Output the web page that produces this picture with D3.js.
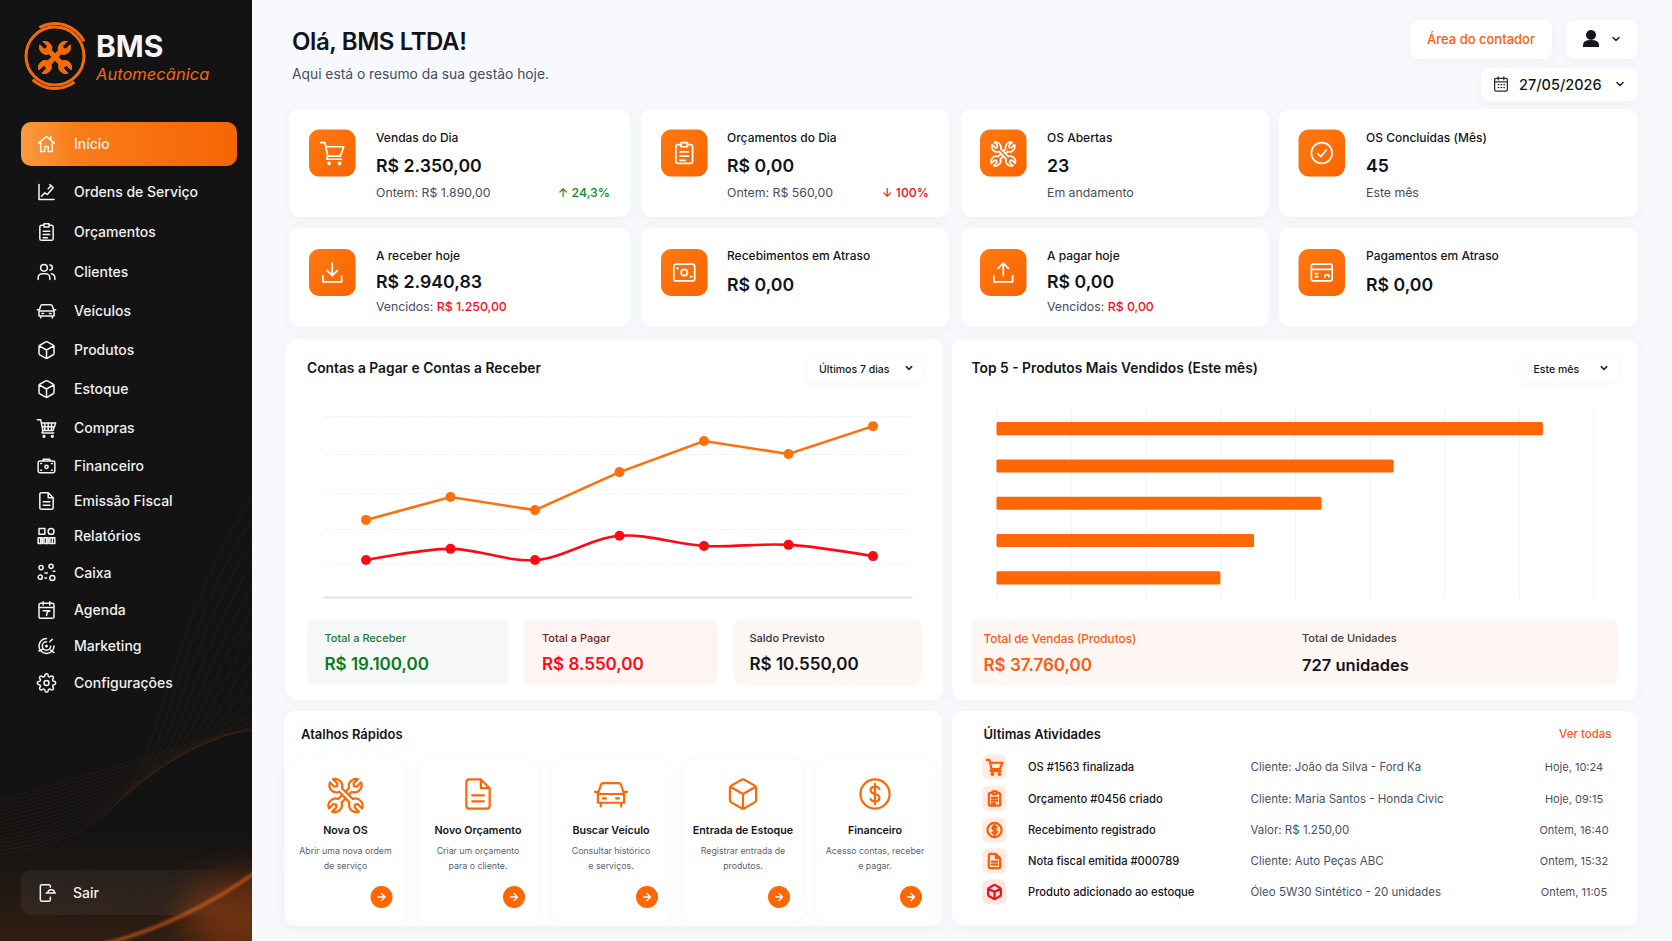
<!DOCTYPE html>
<html lang="pt-BR">
<head>
<meta charset="utf-8">
<title>BMS Automecânica</title>
<script src="https://d3js.org/d3.v7.min.js"></script>
<style>
  html, body { margin: 0; padding: 0; background: #f8f9fc; overflow: hidden; }
  svg { display: block; font-family: 'Inter', 'Roboto', sans-serif; }
</style>
</head>
<body>
<div id="painel"></div>
<script>
// ---- dados ----
var dias = ["21/05", "22/05", "23/05", "24/05", "25/05", "26/05", "27/05"];
var contasReceber = [2130, 2760, 2400, 3450, 4310, 3950, 4720];
var contasPagar = [1020, 1330, 1020, 1690, 1410, 1440, 1130];
var gradeValores = [0, 940, 1880, 2870, 3950, 5000];

var produtos = ["Produto 1", "Produto 2", "Produto 3", "Produto 4", "Produto 5"];
var unidades = [227, 165, 135, 107, 93];
var gradeUnidades = [0, 31, 62, 93, 124, 155, 186, 217, 248];

var menuNomes = ["Início", "Ordens de Serviço", "Orçamentos", "Clientes", "Veículos", "Produtos", "Estoque", "Compras", "Financeiro", "Emissão Fiscal", "Relatórios", "Caixa", "Agenda", "Marketing", "Configurações"];
var menuIcones = ["home", "chart", "clip", "users", "car", "box", "box", "cart2", "safe", "doc", "grid", "nodes", "cal", "spiral", "gear"];

var kpiTitulos = ["Vendas do Dia", "Orçamentos do Dia", "OS Abertas", "OS Concluídas (Mês)", "A receber hoje", "Recebimentos em Atraso", "A pagar hoje", "Pagamentos em Atraso"];
var kpiValores = ["R$ 2.350,00", "R$ 0,00", "23", "45", "R$ 2.940,83", "R$ 0,00", "R$ 0,00", "R$ 0,00"];
var kpiNotas = ["Ontem: R$ 1.890,00", "Ontem: R$ 560,00", "Em andamento", "Este mês", "Vencidos: ", "", "Vencidos: ", ""];
var kpiVencidos = ["", "", "", "", "R$ 1.250,00", "", "R$ 0,00", ""];
var kpiVariacao = ["↑ 24,3%", "↓ 100%", "", "", "", "", "", ""];
var kpiIcones = ["cart", "clip", "tools", "check", "down", "bank", "up", "card"];

var resumoRotulos = ["Total a Receber", "Total a Pagar", "Saldo Previsto"];
var resumoValores = ["R$ 19.100,00", "R$ 8.550,00", "R$ 10.550,00"];

var atalhoTitulos = ["Nova OS", "Novo Orçamento", "Buscar Veículo", "Entrada de Estoque", "Financeiro"];
var atalhoLinha1 = ["Abrir uma nova ordem", "Criar um orçamento", "Consultar histórico", "Registrar entrada de", "Acesso contas, receber"];
var atalhoLinha2 = ["de serviço", "para o cliente.", "e serviços.", "produtos.", "e pagar."];
var atalhoIcones = ["tools", "doc", "car", "box", "dollar"];

var ativTitulos = ["OS #1563 finalizada", "Orçamento #0456 criado", "Recebimento registrado", "Nota fiscal emitida #000789", "Produto adicionado ao estoque"];
var ativDetalhes = ["Cliente: João da Silva - Ford Ka", "Cliente: Maria Santos - Honda Civic", "Valor: R$ 1.250,00", "Cliente: Auto Peças ABC", "Óleo 5W30 Sintético - 20 unidades"];
var ativHoras = ["Hoje, 10:24", "Hoje, 09:15", "Ontem, 16:40", "Ontem, 15:32", "Ontem, 11:05"];
var ativIcones = ["cart", "clip", "dollar", "doc", "box"];

// icones desenhados em caixa 24x24
var icones = {
  home: "M2.5 11 12 3l9.5 8 M5 9v12h5v-6h4v6h5V9 M17 3v3",
  chart: "M3 3v18h18 M6 17l4-4 3 2 6-7 M16 3l4 4 M14 8l3-3",
  clip: "M8 4H6a2 2 0 0 0-2 2v14a2 2 0 0 0 2 2h12a2 2 0 0 0 2-2V6a2 2 0 0 0-2-2h-2 M9 2h6v4H9z M8 11h8 M8 15h8 M8 19h5",
  users: "M9 11a4 4 0 1 0 0-8 4 4 0 0 0 0 8z M2 21v-2a5 5 0 0 1 5-5h4a5 5 0 0 1 5 5v2 M16 3.5a3 3 0 0 1 0 6 M18 14a5 5 0 0 1 4 5v2",
  car: "M3 12l2-6a2 2 0 0 1 2-1.5h10A2 2 0 0 1 19 6l2 6 M3 12h18v6H3z M5 18v2.5 M19 18v2.5 M1 10.5h2 M21 10.5h2 M6.5 15h2 M15.5 15h2",
  box: "M21 16V8a2 2 0 0 0-1-1.73l-7-4a2 2 0 0 0-2 0l-7 4A2 2 0 0 0 3 8v8a2 2 0 0 0 1 1.73l7 4a2 2 0 0 0 2 0l7-4A2 2 0 0 0 21 16z M3.3 7 12 12l8.7-5 M12 22V12",
  cart: "M9 21a1 1 0 1 0 .01 0 M19 21a1 1 0 1 0 .01 0 M1 2h4l2.7 13h12L23 6H6 M7.7 15l-1 3h14",
  cart2: "M9 21a1 1 0 1 0 .01 0 M19 21a1 1 0 1 0 .01 0 M1 2h4l2.7 13h12L23 6H6 M7.7 15l-1 3h14 M10 6v9 M14 6v9 M18 6v9 M6.500 10.500h15",
  safe: "M4 6h16a2 2 0 0 1 2 2v10a2 2 0 0 1-2 2H4a2 2 0 0 1-2-2V8a2 2 0 0 1 2-2z M8 6V4h8v2 M12 11a2 2 0 1 0 0 4 2 2 0 0 0 0-4z M5 9h1 M18 9h1 M5 17h1 M18 17h1",
  doc: "M14 2H6a2 2 0 0 0-2 2v16a2 2 0 0 0 2 2h12a2 2 0 0 0 2-2V8z M14 2v6h6 M8 13h8 M8 17h8",
  grid: "M3 3h7v7H3z M14 6.5a3.5 3.5 0 1 0 7 0 3.5 3.5 0 0 0-7 0z M2 14h5v7H2z M9 14h5v7H9z M16 14h6v7h-6z M5 14v7 M12 14v7 M19 14v7",
  nodes: "M3 5.500a2.500 2.500 0 1 0 5 0 2.500 2.500 0 0 0-5 0z M15 4a2.500 2.500 0 1 0 5 0 2.500 2.500 0 0 0-5 0z M2 17a2.500 2.500 0 1 0 5 0 2.500 2.500 0 0 0-5 0z M16 18a3 3 0 1 0 6 0 3 3 0 0 0-6 0z M10 12h3 M20 10h2 M10 18h2",
  cal: "M5 4h14a2 2 0 0 1 2 2v14a2 2 0 0 1-2 2H5a2 2 0 0 1-2-2V6a2 2 0 0 1 2-2z M16 2v4 M8 2v4 M3 9h18 M8 13h8l-3 1.500-1 4",
  spiral: "M12 3a9 9 0 1 0 9 9 M12 7a5 5 0 1 0 5 5 M12 11a1 1 0 1 0 1 1 M19 4l-3 3 M17 17l4 3 M3 18l4-2",
  gear: "M12 15a3 3 0 1 0 0-6 3 3 0 0 0 0 6z M19.4 15a1.65 1.65 0 0 0 .33 1.82l.06.06a2 2 0 0 1 0 2.83 2 2 0 0 1-2.83 0l-.06-.06a1.65 1.65 0 0 0-1.82-.33 1.65 1.65 0 0 0-1 1.51V21a2 2 0 0 1-2 2 2 2 0 0 1-2-2v-.09A1.65 1.65 0 0 0 9 19.4a1.65 1.65 0 0 0-1.82.33l-.06.06a2 2 0 0 1-2.83 0 2 2 0 0 1 0-2.83l.06-.06a1.65 1.65 0 0 0 .33-1.82 1.65 1.65 0 0 0-1.51-1H3a2 2 0 0 1-2-2 2 2 0 0 1 2-2h.09A1.65 1.65 0 0 0 4.6 9a1.65 1.65 0 0 0-.33-1.82l-.06-.06a2 2 0 0 1 0-2.83 2 2 0 0 1 2.83 0l.06.06a1.65 1.65 0 0 0 1.82.33H9a1.65 1.65 0 0 0 1-1.51V3a2 2 0 0 1 2-2 2 2 0 0 1 2 2v.09a1.65 1.65 0 0 0 1 1.51 1.65 1.65 0 0 0 1.82-.33l.06-.06a2 2 0 0 1 2.83 0 2 2 0 0 1 0 2.83l-.06.06a1.65 1.65 0 0 0-.33 1.82V9a1.65 1.65 0 0 0 1.51 1H21a2 2 0 0 1 2 2 2 2 0 0 1-2 2h-.09a1.65 1.65 0 0 0-1.51 1z",
  sair: "M16 5V4a2 2 0 0 0-2-2H6a2 2 0 0 0-2 2v16a2 2 0 0 0 2 2h8a2 2 0 0 0 2-2v-3 M11 12h11 M13 12a4 4 0 0 1 8 0",
  // chave dupla na diagonal, cabeca aberta nas duas pontas
  tools: "M20.500 1.800l-3 3 .3 1.900 1.900.3 3-3a5 5 0 0 1-6.500 6.500L9.300 17.900a5 5 0 0 1-6.500 6.200l3-3-.3-1.900-1.900-.3-3 3A5 5 0 0 1 7 15.400L14.400 8a5 5 0 0 1 6.100-6.200z",
  check: "M12 2a10 10 0 1 0 0 20 10 10 0 0 0 0-20z M8 12.500l3 3 5.500-6.500",
  down: "M21 15v6H3v-6 M7 10l5 5 5-5 M12 15V3",
  up: "M3 15v6h18v-6 M17 8l-5-5-5 5 M12 3v12",
  bank: "M4 4h16a2 2 0 0 1 2 2v12a2 2 0 0 1-2 2H4a2 2 0 0 1-2-2V6a2 2 0 0 1 2-2z M12 9a3 3 0 1 0 0 6 3 3 0 0 0 0-6z M5 8h1 M18 16h1",
  card: "M4 4h16a2 2 0 0 1 2 2v12a2 2 0 0 1-2 2H4a2 2 0 0 1-2-2V6a2 2 0 0 1 2-2z M2 9h20 M6 13h2 M6 16h2 M15 16a2 2 0 0 1 4 0",
  dollar: "M12 2a10 10 0 1 0 0 20 10 10 0 0 0 0-20z M15 8.500a3 3 0 0 0-3-1.500c-2 0-3 1-3 2.500s1 2 3 2.500 3 1 3 2.500-1 2.500-3 2.500a3 3 0 0 1-3-1.500 M12 5v14",
  arrow: "M5 12h14 M12 5l7 7-7 7",
  cal2: "M5 4h14a2 2 0 0 1 2 2v14a2 2 0 0 1-2 2H5a2 2 0 0 1-2-2V6a2 2 0 0 1 2-2z M16 2v4 M8 2v4 M3 9h18 M8 13h1 M12 13h1 M16 13h1 M8 17h1 M12 17h1 M16 17h1",
  chev: "M6 9l6 6 6-6"
};

var svg = d3.select("#painel").append("svg")
  .attr("width", 1672)
  .attr("height", 941);

var defs = svg.append("defs");

var f1 = defs.append("filter").attr("id", "sombra").attr("x", "-10%").attr("y", "-10%").attr("width", "120%").attr("height", "125%");
f1.append("feDropShadow").attr("dx", 0).attr("dy", 2).attr("stdDeviation", 5).attr("flood-color", "#5a6488").attr("flood-opacity", 0.05);

var f2 = defs.append("filter").attr("id", "brilho").attr("x", "-50%").attr("y", "-50%").attr("width", "200%").attr("height", "200%");
f2.append("feGaussianBlur").attr("stdDeviation", 16);
var f3 = defs.append("filter").attr("id", "brilho2").attr("x", "-20%").attr("y", "-50%").attr("width", "140%").attr("height", "200%");
f3.append("feGaussianBlur").attr("stdDeviation", 1.5);

function gradiente(id, x2, y2, cores) {
  var g = defs.append("linearGradient").attr("id", id).attr("x1", 0).attr("y1", 0).attr("x2", x2).attr("y2", y2);
  cores.forEach(function(c) {
    g.append("stop").attr("offset", c[0]).attr("stop-color", c[1]).attr("stop-opacity", c[2] === undefined ? 1 : c[2]);
  });
}
gradiente("ativo", 1, 0, [[0, "#fb9a3e"], [0.25, "#f97d18"], [1, "#f56504"]]);
gradiente("tile", 1, 1, [[0, "#ff7a12"], [1, "#f96300"]]);
gradiente("sairbg", 1, 0, [[0, "#fff", 0.05], [0.75, "#fff", 0.04], [1, "#fff", 0]]);
gradiente("fundoLaranja", 0, 1, [[0, "#ff6a10", 0], [1, "#ff6a10", 0.12]]);

defs.append("clipPath").attr("id", "lateral").append("rect").attr("width", 252).attr("height", 941);

// helpers
function txt(g, x, y, s, size, weight, cor, anchor) {
  return g.append("text").attr("x", x).attr("y", y).text(s)
    .attr("font-size", size).attr("font-weight", weight).attr("fill", cor)
    .attr("text-anchor", anchor || "start");
}

// fundo = cor de preenchimento da chave de cima, para a cruz ficar legivel
function icone(g, nome, cx, cy, size, cor, sw, fundo) {
  var k = size / 24;
  var ig = g.append("g").attr("transform", "translate(" + (cx - size / 2) + "," + (cy - size / 2) + ") scale(" + k + ")")
    .attr("fill", "none").attr("stroke", cor).attr("stroke-width", sw / k)
    .attr("stroke-linecap", "round").attr("stroke-linejoin", "round");
  ig.append("path").attr("d", icones[nome]).attr("fill", nome == "tools" ? fundo : "none");
  if (nome == "tools") {
    ig.append("path").attr("d", icones[nome]).attr("fill", fundo).attr("transform", "translate(24,0) scale(-1,1)");
  }
  return ig;
}

function cartao(g, x, y, x2, y2, r, cor) {
  return g.append("rect").attr("x", x).attr("y", y).attr("width", x2 - x).attr("height", y2 - y)
    .attr("rx", r).attr("fill", cor || "#fff").attr("filter", "url(#sombra)");
}

// ---- barra lateral ----
var lado = svg.append("g").attr("clip-path", "url(#lateral)");
lado.append("rect").attr("width", 252).attr("height", 941).attr("fill", "#131313");
lado.append("rect").attr("y", 830).attr("width", 252).attr("height", 111).attr("fill", "url(#fundoLaranja)");
lado.append("ellipse").attr("cx", 252).attr("cy", 915).attr("rx", 70).attr("ry", 40).attr("fill", "#e8590c").attr("opacity", 0.35).attr("filter", "url(#brilho)");

// linhas finas de fundo
d3.range(16).forEach(function(i) {
  var d = i * 23;
  lado.append("path")
    .attr("d", "M-10," + (855 - i * 3.500) + " C90," + (845 - i * 4.500) + " " + (130 + d * 0.25) + "," + (805 - i * 5) + " " + (150 + d * 0.3) + "," + (745 - i) +
      " S" + (190 + d * 0.3) + "," + (590 + d * 0.5) + " " + (262) + "," + (480 + d))
    .attr("fill", "none").attr("stroke", "#ff7a20").attr("stroke-opacity", 0.09).attr("stroke-width", 0.8);
});
lado.append("path").attr("d", "M100,945 C160,930 210,905 262,868")
  .attr("fill", "none").attr("stroke", "#ff6a14").attr("stroke-width", 3).attr("opacity", 0.7).attr("filter", "url(#brilho2)");

// logo
var logo = lado.append("g");
logo.append("circle").attr("cx", 55).attr("cy", 56).attr("r", 29).attr("fill", "none").attr("stroke", "#f26a0a").attr("stroke-width", 3);
[[-0.5, 1.1], [2.5, 3.9]].forEach(function(a) {
  logo.append("path").attr("transform", "translate(55,56)")
    .attr("d", d3.arc().innerRadius(31).outerRadius(34).startAngle(a[0]).endAngle(a[1])())
    .attr("fill", "#f26a0a");
});
icone(logo, "tools", 55, 56, 34, "#f26a0a", 1, "#f26a0a");
txt(logo, 96, 57, "BMS", 30, 700, "#f5f5f5");
txt(logo, 96, 80, "Automecânica", 16.5, 400, "#f26a0a").attr("font-style", "italic");

// menu
var menuY = [144, 192, 232, 272, 311, 350, 389, 428, 466, 501, 536, 573, 610, 646, 683];
lado.append("rect").attr("x", 21).attr("y", 122).attr("width", 216).attr("height", 44).attr("rx", 10).attr("fill", "url(#ativo)");
menuNomes.forEach(function(nome, i) {
  icone(lado, menuIcones[i], 46.500, menuY[i], 20, "#f5f5f5", 1.5);
  txt(lado, 74, menuY[i] + 5, nome, 14, 500, "#f0f0f0");
});

lado.append("rect").attr("x", 21).attr("y", 870).attr("width", 216).attr("height", 45).attr("rx", 10).attr("fill", "url(#sairbg)");
icone(lado, "sair", 47, 893, 20, "#f5f5f5", 1.5);
txt(lado, 73, 897.500, "Sair", 14, 500, "#f0f0f0");

// ---- cabecalho ----
var topo = svg.append("g");
txt(topo, 292, 50, "Olá, BMS LTDA!", 24, 600, "#12131c").attr("letter-spacing", "-0.4");
txt(topo, 292, 79, "Aqui está o resumo da sua gestão hoje.", 13.8, 400, "#444a63");

cartao(topo, 1410, 20, 1552, 59, 9);
txt(topo, 1481, 44, "Área do contador", 13, 500, "#ff6008", "middle");
cartao(topo, 1566, 20, 1638, 59, 9);
topo.append("circle").attr("cx", 1591).attr("cy", 35).attr("r", 5).attr("fill", "#15151c");
topo.append("path").attr("d", "M1583,47 v-2 q0,-5 8,-5 q8,0 8,5 v2 z").attr("fill", "#15151c");
icone(topo, "chev", 1616, 39, 12, "#222", 1.6);

cartao(topo, 1481, 68, 1638, 101, 9);
icone(topo, "cal2", 1501, 84, 17, "#2a2c3a", 1.3);
txt(topo, 1519, 89.500, "27/05/2026", 14.5, 500, "#14151c");
icone(topo, "chev", 1620, 84, 12, "#222", 1.6);

// ---- indicadores ----
var colunas = [[289, 630, 309, 376], [641, 949, 661, 727], [961, 1268.500, 980, 1047], [1279, 1638, 1298.500, 1366]];
var linhas = [[109, 217, 153, 142, 172, 197], [228, 327, 272.500, 260, 288, 311]];
var kpis = svg.append("g");
kpiTitulos.forEach(function(titulo, i) {
  var c = colunas[i % 4], l = linhas[Math.floor(i / 4)];
  cartao(kpis, c[0], l[0], c[1], l[1], 11);
  kpis.append("rect").attr("x", c[2]).attr("y", l[2] - 23.500).attr("width", 46.500).attr("height", 47)
    .attr("rx", 10).attr("fill", "url(#tile)");
  icone(kpis, kpiIcones[i], c[2] + 23.250, l[2], 25, "#fff", 1.7, "#fa6c08");
  txt(kpis, c[3], l[3], titulo, 12, 500, "#14151c");
  var semNota = kpiNotas[i] === "";
  txt(kpis, c[3], semNota ? 291 : l[4], kpiValores[i], 17.700, 600, "#12131c");
  if (!semNota) {
    var n = txt(kpis, c[3], l[5], kpiNotas[i], 12.300, 400, "#454b64");
    if (kpiVencidos[i]) n.append("tspan").text(kpiVencidos[i]).attr("fill", "#ff0a14").attr("font-weight", 500);
  }
  if (kpiVariacao[i]) {
    txt(kpis, c[1] - 20, l[5], kpiVariacao[i], 12.300, 500, i == 0 ? "#0c8a2c" : "#ff0a14", "end");
  }
});

// ---- painel contas ----
var contas = svg.append("g");
cartao(contas, 285.500, 339, 943, 700, 12);
txt(contas, 307, 373, "Contas a Pagar e Contas a Receber", 13.800, 600, "#14151c");
cartao(contas, 808.500, 355, 923, 382, 7);
txt(contas, 819, 373, "Últimos 7 dias", 10.5, 500, "#14151c");
icone(contas, "chev", 909, 368, 11, "#222", 1.5);

var xDias = d3.scalePoint().domain(dias).range([366, 873]);
var yContas = d3.scaleLinear().domain([0, 5000]).range([597, 416]);

var grade = contas.append("g").attr("transform", "translate(323.500,0)")
  .call(d3.axisLeft(yContas).tickValues(gradeValores).tickSize(-589).tickFormat(""));
grade.select(".domain").remove();
grade.selectAll("line").attr("stroke", "#eef0f5").attr("stroke-dasharray", "2 1");
grade.selectAll("line").filter(function(d) { return d === 0; })
  .attr("stroke", "#dfe2ec").attr("stroke-width", 2).attr("stroke-dasharray", null);

contas.append("path").datum(contasReceber)
  .attr("fill", "none").attr("stroke", "#ff6f0a").attr("stroke-width", 2.6)
  .attr("d", d3.line().x(function(d, i) { return xDias(dias[i]); }).y(function(d) { return yContas(d); }));
contas.append("path").datum(contasPagar)
  .attr("fill", "none").attr("stroke", "#ff0a14").attr("stroke-width", 2.6)
  .attr("d", d3.line().x(function(d, i) { return xDias(dias[i]); }).y(function(d) { return yContas(d); }).curve(d3.curveCatmullRom.alpha(0.5)));

contas.selectAll("circle.receber").data(contasReceber).enter().append("circle")
  .attr("class", "receber").attr("cx", function(d, i) { return xDias(dias[i]); }).attr("cy", function(d) { return yContas(d); })
  .attr("r", 5).attr("fill", "#ff6f0a");
contas.selectAll("circle.pagar").data(contasPagar).enter().append("circle")
  .attr("class", "pagar").attr("cx", function(d, i) { return xDias(dias[i]); }).attr("cy", function(d) { return yContas(d); })
  .attr("r", 5).attr("fill", "#ff0a14");

var caixasX = [[307, 508.500, 324.500], [524, 717, 542], [732.500, 923, 749.500]];
var caixasCor = [["#f5f8f6", "#1d7a38", "#0a7a22"], ["#fff4f4", "#7a1c1c", "#ff0a14"], ["#fdf7f4", "#33333b", "#12131c"]];
resumoRotulos.forEach(function(r, i) {
  contas.append("rect").attr("x", caixasX[i][0]).attr("y", 619).attr("width", caixasX[i][1] - caixasX[i][0]).attr("height", 66)
    .attr("rx", 9).attr("fill", caixasCor[i][0]);
  txt(contas, caixasX[i][2], 642, r, 11, 500, caixasCor[i][1]);
  txt(contas, caixasX[i][2], 670, resumoValores[i], 17, 600, caixasCor[i][2]);
});

// ---- painel top 5 ----
var top5 = svg.append("g");
cartao(top5, 952, 339, 1637.500, 700, 12);
txt(top5, 971.500, 373, "Top 5 - Produtos Mais Vendidos (Este mês)", 13.800, 600, "#14151c");
cartao(top5, 1523, 355, 1618, 382, 7);
txt(top5, 1533.500, 373, "Este mês", 10.5, 500, "#14151c");
icone(top5, "chev", 1604, 368, 11, "#222", 1.5);

var xUnid = d3.scaleLinear().domain([0, 248]).range([996.500, 1593.500]);
var yProd = d3.scaleBand().domain(produtos).range([410, 596.500]).paddingInner(0.65).paddingOuter(0.325);

var gradeBarras = top5.append("g").attr("transform", "translate(0,598)")
  .call(d3.axisBottom(xUnid).tickValues(gradeUnidades).tickSize(-190).tickFormat(""));
gradeBarras.select(".domain").remove();
gradeBarras.selectAll("line").attr("stroke", "#eceef4").attr("stroke-dasharray", "3 1");

top5.selectAll("rect.barra").data(unidades).enter().append("rect")
  .attr("class", "barra")
  .attr("x", xUnid(0))
  .attr("y", function(d, i) { return yProd(produtos[i]); })
  .attr("width", function(d) { return xUnid(d) - xUnid(0); })
  .attr("height", yProd.bandwidth())
  .attr("rx", 1.5)
  .attr("fill", "#ff6604");

top5.append("rect").attr("x", 971.500).attr("y", 619).attr("width", 647).attr("height", 66).attr("rx", 9).attr("fill", "#fdf6f2");
txt(top5, 983.500, 643, "Total de Vendas (Produtos)", 11.800, 500, "#ff5a10");
txt(top5, 983.500, 671, "R$ 37.760,00", 17, 600, "#ff5a10");
txt(top5, 1302, 642, "Total de Unidades", 11, 500, "#4a3a34");
txt(top5, 1302, 670.500, "727 unidades", 16.500, 600, "#12131c");

// ---- atalhos ----
var atalhos = svg.append("g");
cartao(atalhos, 284, 711, 942, 926, 12);
txt(atalhos, 301, 739, "Atalhos Rápidos", 13, 600, "#14151c");
var atalhoX = [286.500, 419, 552, 684, 816];
atalhoTitulos.forEach(function(t, i) {
  var x = atalhoX[i], meio = x + 59;
  cartao(atalhos, x, 761, x + 119, 921, 10);
  icone(atalhos, atalhoIcones[i], meio, 794, 35, "#ff6604", 2.2, "#fff");
  txt(atalhos, meio, 834, t, 10.700, 600, "#14151c", "middle");
  txt(atalhos, meio, 854, atalhoLinha1[i], 8.800, 400, "#5a5f75", "middle");
  txt(atalhos, meio, 869, atalhoLinha2[i], 8.800, 400, "#5a5f75", "middle");
  atalhos.append("circle").attr("cx", x + 95).attr("cy", 897).attr("r", 11).attr("fill", "#ff6604");
  icone(atalhos, "arrow", x + 95, 897, 12, "#fff", 1.4);
});

// ---- ultimas atividades ----
var ativ = svg.append("g");
cartao(ativ, 952, 711, 1637.500, 926, 12);
txt(ativ, 983.500, 739, "Últimas Atividades", 13, 600, "#14151c");
txt(ativ, 1611.500, 738, "Ver todas", 11.5, 500, "#ff5a10", "end");
var ativY = [767, 798.500, 830, 861, 892];
ativTitulos.forEach(function(t, i) {
  var y = ativY[i];
  var ultimo = i == ativTitulos.length - 1;
  ativ.append("rect").attr("x", 982.500).attr("y", y - 12.500).attr("width", 24).attr("height", 25).attr("rx", 6)
    .attr("fill", ultimo ? "#fde6e4" : "#fdece2");
  icone(ativ, ativIcones[i], 994.500, y, 17, ultimo ? "#f0101a" : "#ff5a08", 2.2);
  txt(ativ, 1028, y + 4, t, 11.200, 500, "#14151c");
  txt(ativ, 1250.500, y + 4, ativDetalhes[i], 11.500, 400, "#4a4f68");
  txt(ativ, 1574, y + 4, ativHoras[i], 11, 400, "#4a4f68", "middle");
});
</script>
</body>
</html>
